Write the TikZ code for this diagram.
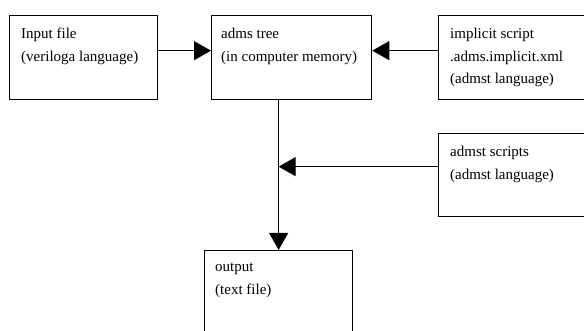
\documentclass[tikz,border=0pt]{standalone}
\usepackage{fontspec}
\setmainfont{Liberation Serif}
\usetikzlibrary{arrows.meta,positioning}

\tikzset{
  box/.style={draw, line width=1.3pt, anchor=north west, minimum width=148pt, minimum height=84pt, inner sep=0pt},
  txt/.style={align=left, inner sep=0pt, font=\fontsize{15}{22.5}\selectfont},
  flow/.style={line width=1pt, -{Triangle[length=17pt,width=19pt]}},
}

\begin{document}
\begin{tikzpicture}[x=1pt,y=-1pt]
	\useasboundingbox (0,0) rectangle (584,331);
	\clip (0,0) rectangle (584,331);

	% the boxes
	\node[box] (input) at (9,15) {};
	\node[box, minimum width=160pt] (tree) at (211,15) {};
	\node[box, minimum width=152pt] (implicit) at (438,15) {};
	\node[box, minimum width=152pt, minimum height=83pt] (scripts) at (438,133) {};
	\node[box, minimum height=95pt] (output) at (204,250) {};

	% text in the top left corner of each box
	\node[txt, below right=13pt and 12pt of input.north west] (inputtxt) {Input file\\(veriloga language)};
	\node[txt, below right=13pt and 10pt of tree.north west] (treetxt) {adms tree\\(in computer memory)};
	\node[txt, below right=13pt and 12pt of implicit.north west] (implicittxt) {implicit script\\.adms.implicit.xml\\(admst language)};
	\node[txt, below right=13pt and 12pt of scripts.north west] (scriptstxt) {admst scripts\\(admst language)};
	\node[txt, below right=13pt and 11pt of output.north west] (outputtxt) {output\\(text file)};

	% arrows into the tree and down to the output
	\draw[flow] ([yshift=7pt]input.east) -- ([yshift=7pt]tree.west);
	\draw[flow] ([yshift=7pt]implicit.west) -- ([yshift=7pt]tree.east);
	\draw[flow] (tree.south -| output.north) -- (output.north);
	\draw[flow] ([yshift=8.5pt]scripts.west) -- ([yshift=8.5pt]scripts.west -| output.north);
\end{tikzpicture}
\end{document}
